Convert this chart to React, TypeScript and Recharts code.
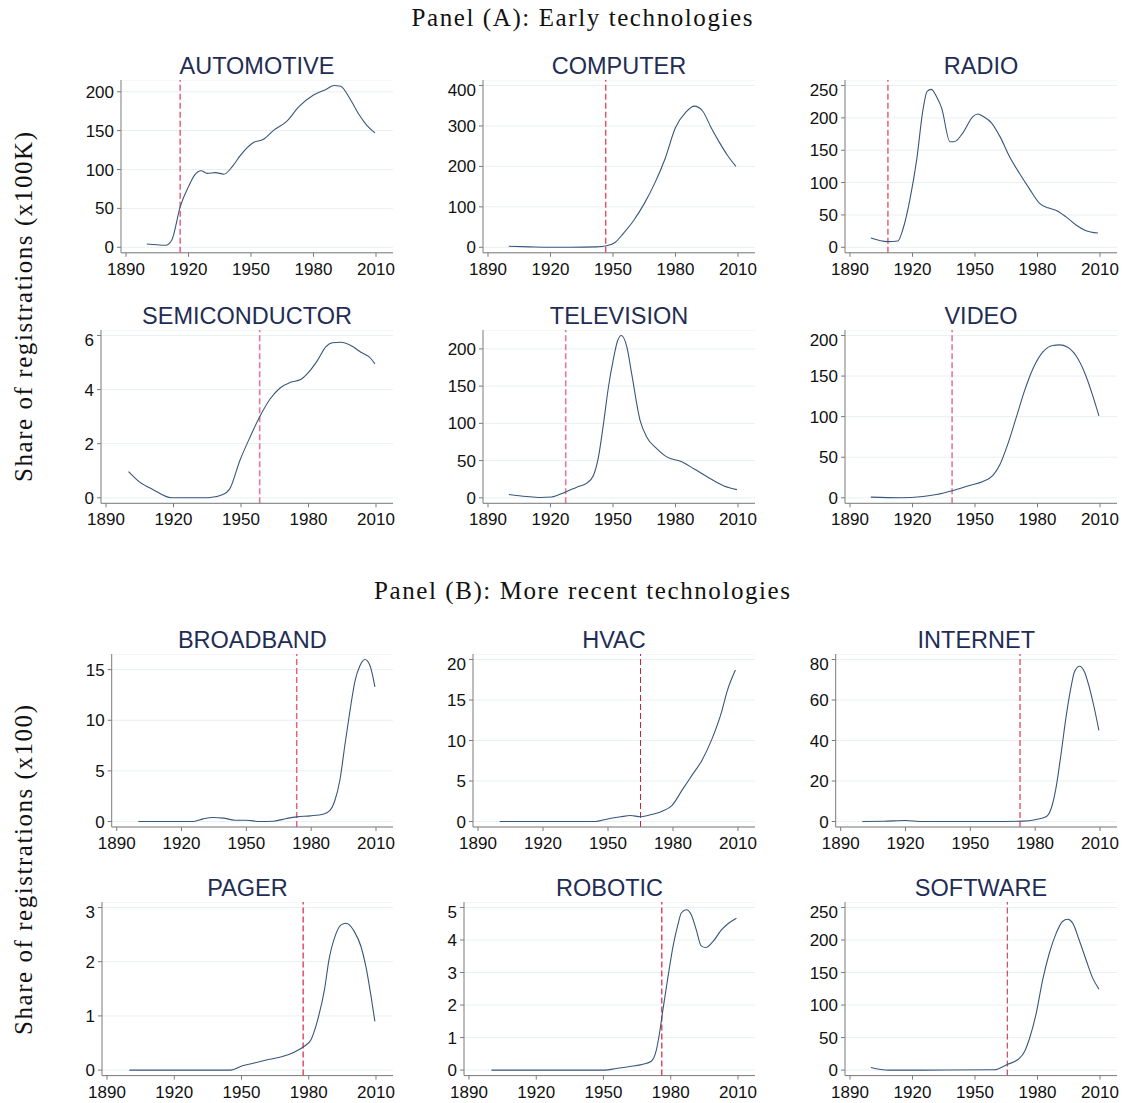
import { LineChart, Line, XAxis, YAxis, CartesianGrid, ReferenceLine } from 'recharts'

// year / value pairs
const automotive = [
  [1900, 4.3], [1905, 3.2], [1909, 2.6], [1912, 9.4], [1916, 52], [1920, 78], [1923, 93],
  [1926, 98.5], [1929, 95], [1933, 96], [1937, 94], [1941, 103.6], [1945, 118.6], [1951, 134.5],
  [1956, 138.8], [1961, 150.7], [1967, 161.5], [1973, 180.7], [1980, 195.7], [1986, 203],
  [1990, 208], [1993, 207], [1997.5, 191], [2002, 170], [2005.5, 157], [2009.5, 147],
]
const computer = [
  [1900, 2.5], [1910, 1], [1920, 0], [1930, 0], [1942, 1], [1947, 4], [1951, 12], [1955, 34.5],
  [1960, 67], [1965, 108], [1970, 158], [1975, 219], [1980, 296], [1985, 334], [1989, 349],
  [1993, 337], [1997, 297], [2001, 260], [2005, 227], [2009, 200],
]
const radio = [
  [1900, 14.4], [1908, 8.8], [1913, 9.8], [1915.5, 29], [1918.7, 73], [1922, 135], [1925, 212],
  [1927, 241], [1929, 244], [1931.5, 233], [1934, 215], [1938, 163], [1940, 163], [1944, 176],
  [1949, 202], [1951.4, 206], [1954, 202], [1958, 192], [1962, 171], [1966.6, 140], [1971.4, 114],
  [1976, 91], [1981, 68], [1985, 61], [1989, 57], [1993.7, 47], [1998.5, 34.5], [2003, 26],
  [2009, 22],
]
const semiconductor = [
  [1900, 0.97], [1905, 0.58], [1911, 0.3], [1919, 0], [1929, 0], [1935.5, 0], [1942, 0.12],
  [1945, 0.33], [1949.5, 1.38], [1954, 2.24], [1958.6, 3.04], [1963, 3.66], [1967.5, 4.07],
  [1972, 4.27], [1976.5, 4.37], [1979.4, 4.58], [1984, 5.08], [1987.6, 5.57], [1990.6, 5.73],
  [1994.4, 5.75], [1998.8, 5.63], [2003.3, 5.38], [2007.8, 5.14], [2009.5, 4.95],
]
const television = [
  [1900, 4.5], [1908.5, 1.8], [1915, 0.5], [1920.5, 1], [1927, 7.6], [1932.6, 14.3],
  [1937.4, 19.7], [1940.6, 30], [1943, 54.6], [1945.4, 99], [1947.8, 148.5], [1950.2, 186.6],
  [1952.2, 211], [1954, 218], [1956.7, 202], [1959, 166], [1963, 104], [1966.3, 81], [1971, 66],
  [1976, 54.6], [1982.4, 49], [1988.8, 39], [1996.8, 25.5], [2003.3, 16], [2009.5, 11],
]
const video = [
  [1900, 0.8], [1914, 0], [1925, 1.6], [1931.5, 4], [1939.5, 9], [1947.4, 15.2], [1953.8, 20],
  [1958.6, 27.5], [1961.8, 40], [1965.8, 66.5], [1969.8, 99], [1973.8, 132], [1977.8, 159],
  [1982.5, 179.5], [1987.3, 187.7], [1990.5, 188.5], [1994.5, 185.6], [1998.5, 175],
  [2002.5, 155], [2006.5, 126], [2009.5, 101],
]
const broadband = [
  [1900, 0], [1925.5, 0], [1930, 0.26], [1934.7, 0.4], [1939.4, 0.33], [1944.8, 0.13],
  [1950, 0.13], [1956.3, 0], [1962.5, 0.03], [1968.7, 0.3], [1973.3, 0.46], [1979.5, 0.56],
  [1985.6, 0.72], [1988.7, 1.1], [1991, 2.1], [1993.3, 4.1], [1995.7, 7.7], [1998, 11],
  [2000.3, 13.9], [2002.6, 15.4], [2004.9, 16], [2007.2, 15.4], [2009.5, 13.3],
]
const hvac = [
  [1900, 0], [1944.2, 0], [1948.8, 0.25], [1955.8, 0.58], [1960.4, 0.74], [1965, 0.58],
  [1968.8, 0.78], [1975, 1.28], [1979.6, 2.0], [1984.2, 3.87], [1988.8, 5.72], [1993.4, 7.57],
  [1998, 10.2], [2002.6, 13.7], [2004.9, 16], [2008.8, 18.7],
]
const internet = [
  [1900, 0], [1910, 0.1], [1919.7, 0.5], [1928, 0], [1959, 0], [1974.3, 0.2], [1980.5, 1],
  [1985, 2.3], [1987.4, 6.4], [1989.7, 17], [1992, 33.6], [1994.3, 51.7], [1996.6, 66.5],
  [1998.2, 74], [2000.5, 76.7], [2002.8, 74], [2005, 66.5], [2007.4, 55.8], [2009.5, 45],
]
const pager = [
  [1900, 0], [1945.2, 0], [1950.4, 0.08], [1955.6, 0.13], [1961.6, 0.19], [1967.5, 0.24],
  [1973.5, 0.33], [1978, 0.44], [1981, 0.56], [1984, 0.93], [1987, 1.48], [1989, 2.03],
  [1992, 2.5], [1994.4, 2.68], [1996.6, 2.71], [2000.3, 2.56], [2003.3, 2.28], [2005.5, 1.91],
  [2007.8, 1.36], [2009.5, 0.9],
]
const robotic = [
  [1900, 0], [1950.5, 0], [1955.7, 0.05], [1961.7, 0.11], [1967.6, 0.18], [1971.3, 0.27],
  [1973.6, 0.62], [1975, 1.14], [1976.5, 1.85], [1978.8, 2.88], [1981, 3.8], [1983.2, 4.47],
  [1984.7, 4.83], [1987, 4.93], [1989.2, 4.77], [1991.4, 4.31], [1993.6, 3.82], [1995.6, 3.77],
  [1998.8, 3.95], [2002.6, 4.31], [2005.5, 4.5], [2009.3, 4.67],
]
const software = [
  [1900, 4], [1908.4, 0], [1925, 0], [1959.4, 0.5], [1965, 8], [1971.4, 18.4], [1973.8, 28.7],
  [1976.2, 49], [1979.4, 87.6], [1982.5, 139], [1985.7, 180], [1989, 210.6], [1992, 228.5],
  [1994.5, 232], [1996.9, 226], [2000, 200], [2003.3, 169.6], [2006.5, 141.4], [2009.5, 124.5],
]

const names = [
  'AUTOMOTIVE', 'COMPUTER', 'RADIO', 'SEMICONDUCTOR', 'TELEVISION', 'VIDEO',
  'BROADBAND', 'HVAC', 'INTERNET', 'PAGER', 'ROBOTIC', 'SOFTWARE',
]
const series = [
  automotive, computer, radio, semiconductor, television, video,
  broadband, hvac, internet, pager, robotic, software,
]
// year marked by the dashed line
const refYears = [1916, 1946.5, 1908.2, 1958.3, 1927.3, 1939, 1973.3, 1965, 1973, 1977.5, 1976, 1965.5]
const yTicks = [
  [0, 50, 100, 150, 200], [0, 100, 200, 300, 400], [0, 50, 100, 150, 200, 250],
  [0, 2, 4, 6], [0, 50, 100, 150, 200], [0, 50, 100, 150, 200],
  [0, 5, 10, 15], [0, 5, 10, 15, 20], [0, 20, 40, 60, 80],
  [0, 1, 2, 3], [0, 1, 2, 3, 4, 5], [0, 50, 100, 150, 200, 250],
]
const xTicks = [1890, 1920, 1950, 1980, 2010]

// layout
const colLeft = [60, 425, 790]
const colRight = [393, 755, 1117]
const rowTop = [80, 329.5, 653.8, 902.2]
const rowBottom = [252.8, 502.8, 826.8, 1075.8]
const axisXs = [121, 483, 845, 101, 483, 845, 111.7, 473, 835.7, 102, 464, 845]
const refStyle = [
  ['#e8607c', 1.5], ['#e24e6c', 1.4], ['#e8607c', 1.5], ['#e8789a', 1.6], ['#e8789a', 1.6],
  ['#e8789a', 1.6], ['#e8607c', 1.5], ['#c42440', 1], ['#e8607c', 1.5], ['#e0304e', 1.3],
  ['#e0304e', 1.3], ['#b8283e', 1],
]
const PAD = 5.5
const sans = '"Liberation Sans", Arial, sans-serif'
const serif = '"Liberation Serif", "Times New Roman", serif'

function TechChart({ i }: { i: number }) {
  const col = i % 3
  const row = Math.floor(i / 3)
  const left = colLeft[col]
  const right = colRight[col]
  const axisX = axisXs[i]
  const top = rowTop[row]
  const bottom = rowBottom[row]
  const plotH = bottom - top
  const inner = plotH - 2 * PAD
  const data = series[i].map(([year, value]) => ({ year, value }))
  const ticks = yTicks[i]
  const yMax = Math.max(ticks[ticks.length - 1], ...series[i].map((p) => p[1]))
  const k = PAD / inner
  const yDomain = [-k * yMax, yMax * (1 + k)]
  const x1890 = axisX + 5
  const x2010 = right - 17
  const s = (x2010 - x1890) / 120
  const xDomain = [1890 - 5 / s, 2010 + 17 / s]
  const W = right - left + 10
  const H = plotH + 40
  const [refColor, refWidth] = refStyle[i]

  return (
    <div style={{ position: 'absolute', left, top: top - 40 }}>
      <div
        style={{
          position: 'absolute',
          left: axisX - left,
          width: right - axisX,
          top: 11,
          textAlign: 'center',
          fontFamily: sans,
          fontSize: 23.5,
          color: '#1f2d55',
          lineHeight: '30px',
        }}
      >
        {names[i]}
      </div>
      <div style={{ position: 'absolute', left: 0, top: 40 }}>
        <LineChart width={W} height={H} data={data} margin={{ top: 0, right: 10, bottom: 10, left: 0 }}>
          <CartesianGrid vertical={false} stroke="#e9f0f2" />
          <XAxis
            dataKey="year"
            type="number"
            domain={xDomain}
            ticks={xTicks}
            allowDataOverflow
            height={30}
            tickSize={4}
            tickMargin={6}
            stroke="#7a7a7a"
            tick={{ fill: '#111', fontSize: 17, fontFamily: sans }}
          />
          <YAxis
            type="number"
            domain={yDomain}
            ticks={ticks}
            allowDataOverflow
            width={axisX - left}
            tickSize={4}
            tickMargin={3}
            stroke="#7a7a7a"
            tick={{ fill: '#111', fontSize: 17, fontFamily: sans }}
          />
          <ReferenceLine x={refYears[i]} stroke={refColor} strokeWidth={refWidth} strokeDasharray="6 3" />
          <Line
            type="monotone"
            dataKey="value"
            stroke="#39577a"
            strokeWidth={1.1}
            dot={false}
            isAnimationActive={false}
          />
        </LineChart>
      </div>
    </div>
  )
}

export default function App() {
  return (
    <div
      style={{
        position: 'absolute',
        left: 0,
        top: 0,
        width: 1127,
        height: 1103,
        background: '#fff',
        overflow: 'hidden',
      }}
    >
      <svg width={1127} height={1103} style={{ position: 'absolute', left: 0, top: 0 }}>
        <text x={582} y={26} textAnchor="middle" fontFamily={serif} fontSize={25} textLength={341} fill="#111">
          Panel (A): Early technologies
        </text>
        <text x={582} y={599} textAnchor="middle" fontFamily={serif} fontSize={25} textLength={416} fill="#111">
          Panel (B): More recent technologies
        </text>
        <text
          transform="translate(32, 307) rotate(-90)"
          textAnchor="middle"
          fontFamily={serif}
          fontSize={25}
          textLength={350}
          fill="#111"
        >
          Share of registrations (x100K)
        </text>
        <text
          transform="translate(32, 870) rotate(-90)"
          textAnchor="middle"
          fontFamily={serif}
          fontSize={25}
          textLength={330}
          fill="#111"
        >
          Share of registrations (x100)
        </text>
      </svg>
      {names.map((n, i) => (
        <TechChart key={n} i={i} />
      ))}
    </div>
  )
}
